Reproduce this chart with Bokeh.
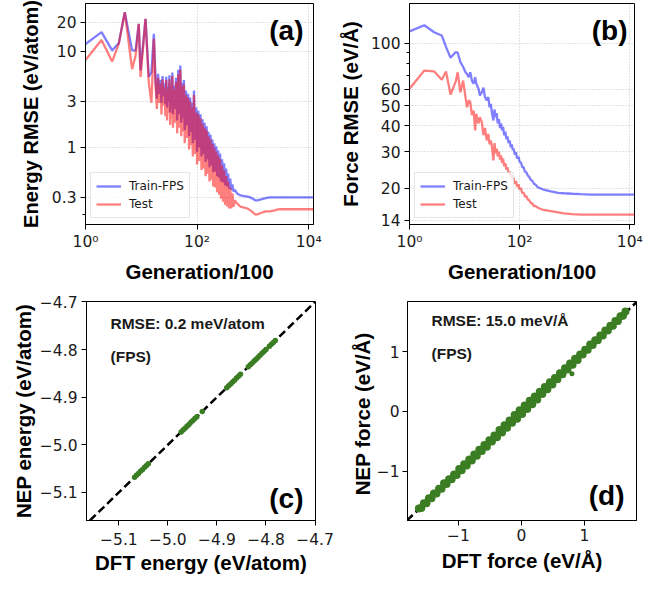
from bokeh.plotting import figure
from bokeh.layouts import row, column
from bokeh.models import FixedTicker, Label, Slope, Range1d
from bokeh.embed import file_html
from bokeh.resources import INLINE

# ---------------- data: panel (a) energy RMSE ----------------
gen_a = [1, 1.94, 3, 3.95, 5.06, 6.85, 7.9, 9.0, 9.7, 11.9, 13.6, 15.2, 16.8,
         18, 19, 20, 21, 22, 23, 24, 25, 26, 27,
         28, 29, 30, 31, 32, 33, 34, 35, 36, 37,
         38, 40, 42, 44, 46, 48, 50, 52, 54, 56,
         58, 60, 63, 66, 69, 72, 75, 78, 81, 84,
         88, 92, 96, 100, 105, 110, 115, 120, 125, 130,
         136, 142, 148, 154, 160, 167, 174, 181, 188, 195,
         203, 211, 220, 229, 238, 248, 258, 268, 280, 292,
         305, 318, 332, 346, 360, 376, 392, 410, 430, 450,
         475,
         520, 600, 700, 800, 900, 1000, 1100, 1200, 1350, 1500, 1700, 2000,
         2500, 2800, 3200, 5000, 12200]
train_e = [11.9, 15.8, 10.2, 12.1, 25.5, 10.2, 10.2, 19.3, 6.3, 21.7, 5.4, 6.0, 15.2,
           4.9, 3.2, 5.8, 3.6, 5.0, 2.9, 5.5, 3.4, 4.6, 2.8,
           5.4, 2.6, 4.3, 3.0, 5.6, 2.3, 4.6, 2.7, 6.0, 2.2,
           4.4, 2.5, 5.3, 1.9, 6.4, 2.2, 7.1, 1.8, 4.7, 2.0,
           5.0, 1.5, 3.9, 1.7, 3.6, 1.3, 3.3, 1.45, 2.9, 1.1,
           3.9, 1.2, 2.6, 0.9, 2.4, 1.0, 2.2, 0.8, 1.95, 0.85,
           1.8, 0.7, 1.65, 0.75, 1.45, 0.62, 1.35, 0.65, 1.2, 0.55,
           1.1, 0.56, 1.02, 0.5, 0.93, 0.48, 0.86, 0.44, 0.75, 0.43,
           0.68, 0.40, 0.6, 0.39, 0.53, 0.37, 0.47, 0.36, 0.41, 0.345,
           0.36,
           0.33, 0.315, 0.31, 0.305, 0.3, 0.29, 0.28, 0.28, 0.285, 0.29, 0.295, 0.3,
           0.3, 0.3, 0.3, 0.3, 0.3]
test_e = [8.1, 13.1, 7.8, 12.0, 25.5, 6.5, 9.0, 19.3, 5.4, 21.7, 4.75, 2.9, 13.5,
          4.5, 2.5, 5.3, 2.9, 4.6, 2.2, 5.1, 2.7, 4.2, 2.1,
          5.0, 1.9, 4.0, 2.3, 5.1, 1.7, 4.2, 2.0, 5.5, 1.6,
          4.0, 1.8, 4.8, 1.4, 5.8, 1.6, 6.4, 1.3, 4.3, 1.45,
          4.5, 1.1, 3.5, 1.25, 3.3, 0.95, 3.0, 1.05, 2.6, 0.8,
          3.5, 0.85, 2.3, 0.66, 2.2, 0.72, 2.0, 0.58, 1.75, 0.6,
          1.6, 0.5, 1.5, 0.53, 1.3, 0.44, 1.2, 0.46, 1.08, 0.39,
          0.98, 0.38, 0.9, 0.34, 0.82, 0.32, 0.75, 0.29, 0.64, 0.27,
          0.57, 0.25, 0.5, 0.24, 0.44, 0.23, 0.38, 0.23, 0.33, 0.24,
          0.28,
          0.26, 0.24, 0.235, 0.23, 0.22, 0.21, 0.2, 0.2, 0.205, 0.21, 0.215, 0.215,
          0.22, 0.225, 0.226, 0.226, 0.226]

# ---------------- data: panel (b) force RMSE ----------------
gen_b = [1, 1.86, 2.8, 3.85, 4.6, 5.57, 6.85, 7.5, 8.4, 9.4, 10.4, 11.1, 11.9, 12.7, 13.6, 14.6, 15.6, 16.3,
         17.9, 19, 20.6, 22, 23.5, 25.3, 27, 28.5, 30, 31.5,
         33.4, 35, 36.5, 38.3, 40, 42, 44, 46, 48, 50,
         52.5, 55, 57.5, 60, 63, 66, 69, 72, 75, 78,
         82, 86, 90, 95, 100, 106, 112, 118, 125, 133,
         141, 150, 160, 170, 182, 195, 213,
         270, 370, 500, 640, 900, 1300, 1930, 3000, 5000, 12200]
train_f = [114, 122, 113, 109, 96, 85, 90.5, 90, 81, 77, 72.4, 71, 68.5, 72.4, 66, 63.7, 68.5, 64,
           60.3, 56, 58, 61, 55, 53, 55, 49, 51, 46,
           42.4, 48, 44, 46, 41, 43, 39, 41, 38, 39.5,
           36, 37.5, 34.5, 35.5, 33, 34, 31.5, 32.5, 30.5, 31,
           29, 29.8, 27.8, 28.4, 26.8, 26.6, 25.2, 25.3, 24.0, 23.8,
           23.0, 22.6, 21.9, 21.7, 21.0, 20.8, 20.2,
           19.7, 19.3, 19.0, 18.9, 18.8, 18.7, 18.6, 18.6, 18.6, 18.6]
test_f = [60.3, 73.8, 73.2, 66.7, 73, 56.6, 64.9, 72.4, 58, 66, 55, 49.1, 53, 52, 45, 47.3, 38, 45.7,
          41, 44, 41.6, 36, 39, 34, 36.5, 32.5, 34, 31.6,
          27.2, 33, 29.5, 31, 28.5, 30, 27.5, 28.8, 26.5, 27.8,
          25.5, 26.4, 24.6, 25.2, 23.6, 24.0, 22.6, 23.2, 21.8, 22.4,
          21.0, 21.6, 20.3, 20.9, 19.7, 20.0, 18.9, 19.1, 18.2, 18.3,
          17.6, 17.5, 16.9, 16.9, 16.4, 16.4, 16.1,
          15.7, 15.5, 15.3, 15.1, 15.0, 14.9, 14.9, 14.9, 14.9, 14.9]

# ---------------- data: panel (c) energy parity ----------------
dft_e = [-5.068, -5.064, -5.060, -5.056, -5.052, -5.048, -5.044, -5.040,
         -4.973, -4.969, -4.965, -4.961, -4.957, -4.953, -4.949, -4.945, -4.941,
         -4.930,
         -4.880, -4.876, -4.872, -4.868, -4.864, -4.860, -4.856, -4.852,
         -4.836, -4.832, -4.828, -4.824, -4.820, -4.816, -4.812, -4.808, -4.804, -4.800,
         -4.793, -4.789, -4.785, -4.781]
nep_e = [-5.0682, -5.0638, -5.0601, -5.0558, -5.0523, -5.0478, -5.0442, -5.0399,
         -4.9732, -4.9688, -4.9652, -4.9608, -4.9571, -4.9528, -4.9492, -4.9449, -4.9411,
         -4.9302,
         -4.8802, -4.8758, -4.8721, -4.8679, -4.8642, -4.8598, -4.8561, -4.8519,
         -4.8362, -4.8318, -4.8281, -4.8238, -4.8202, -4.8159, -4.8121, -4.8078, -4.8041, -4.7998,
         -4.7932, -4.7888, -4.7851, -4.7809]

# ---------------- data: panel (d) force parity ----------------
dft_f = [-1.63, -1.59, -1.55, -1.51, -1.47, -1.43, -1.39, -1.35, -1.31, -1.27,
         -1.23, -1.19, -1.15, -1.11, -1.07, -1.03, -0.99, -0.95, -0.91, -0.87,
         -0.83, -0.79, -0.75, -0.71, -0.67, -0.63, -0.59, -0.55, -0.51, -0.47,
         -0.43, -0.39, -0.35, -0.31, -0.27, -0.23, -0.19, -0.15, -0.11, -0.07,
         -0.03, 0.01, 0.05, 0.09, 0.13, 0.17, 0.21, 0.25, 0.29, 0.33,
         0.37, 0.41, 0.45, 0.49, 0.53, 0.57, 0.61, 0.65, 0.69, 0.73,
         0.77, 0.81, 0.85, 0.89, 0.93, 0.97, 1.01, 1.05, 1.09, 1.13,
         1.17, 1.21, 1.25, 1.29, 1.33, 1.37, 1.41, 1.45, 1.49, 1.53,
         1.57, 1.61, 1.65]
nep_f = [-1.62, -1.61, -1.53, -1.53, -1.45, -1.45, -1.37, -1.37, -1.29, -1.29,
         -1.20, -1.21, -1.13, -1.13, -1.05, -1.06, -0.96, -0.98, -0.88, -0.90,
         -0.80, -0.82, -0.72, -0.74, -0.64, -0.66, -0.56, -0.59, -0.48, -0.50,
         -0.40, -0.43, -0.31, -0.35, -0.23, -0.27, -0.15, -0.19, -0.06, -0.12,
         0.02, -0.04, 0.10, 0.04, 0.18, 0.12, 0.25, 0.20, 0.33, 0.29,
         0.41, 0.37, 0.49, 0.45, 0.56, 0.54, 0.64, 0.62, 0.72, 0.70,
         0.80, 0.78, 0.88, 0.86, 0.95, 0.95, 1.03, 1.03, 1.12, 1.11,
         1.19, 1.19, 1.27, 1.27, 1.35, 1.35, 1.43, 1.43, 1.51, 1.51,
         1.59, 1.60, 1.67]
dft_out = [0.80]
nep_out = [0.63]

# ---------------- ticks ----------------
gen_ticks = [1, 100, 10000]
gen_tick_labels = ["10\u2070", "10\u00b2", "10\u2074"]
erm_ticks = [0.3, 1, 3, 10, 20]
erm_labels = ["0.3", "1", "3", "10", "20"]
frm_ticks = [14, 20, 30, 40, 50, 60, 100]
frm_labels = ["14", "20", "30", "40", "50", "60", "100"]
e_ticks = [-5.1, -5.0, -4.9, -4.8, -4.7]
f_ticks = [-1, 0, 1]

BLUE = "#0000ff"
RED = "#ff0000"
GREEN = "#3b7d23"
LABEL_FONT = "Liberation Sans"
TICK_FONT = "DejaVu Sans"


def minus(v, fmt):
    return (fmt % v).replace("-", "\u2212")


def base_style(p, xs1, xs2, ys1, ys2, yfs="20.5px"):
    p.outline_line_color = "black"
    p.outline_line_width = 1
    p.outline_line_alpha = 1
    p.background_fill_color = "white"
    p.border_fill_color = "white"
    for ax in (p.xaxis[0], p.yaxis[0]):
        ax.axis_line_color = "black"
        ax.major_tick_line_color = "black"
        ax.minor_tick_line_color = "black"
        ax.major_tick_in = 0
        ax.major_tick_out = 5
        ax.minor_tick_in = 0
        ax.minor_tick_out = 3
        ax.major_label_text_font = TICK_FONT
        ax.major_label_text_font_size = "15.5px"
        ax.major_label_text_color = "#1a1a1a"
        ax.axis_label_text_font = LABEL_FONT
        ax.axis_label_text_font_style = "bold"
        ax.axis_label_text_font_size = "20.5px"
        ax.axis_label_text_color = "black"
    p.yaxis[0].axis_label_text_font_size = yfs
    p.xaxis[0].major_label_standoff = xs1
    p.xaxis[0].axis_label_standoff = xs2
    p.yaxis[0].major_label_standoff = ys1
    p.yaxis[0].axis_label_standoff = ys2


def panel_label(p, text, x, y):
    p.add_layout(Label(x=x, y=y, x_units="screen", y_units="screen", text=text,
                       text_align="right", text_baseline="alphabetic",
                       text_font=LABEL_FONT, text_font_style="bold",
                       text_font_size="28px", text_color="black"))


def note(p, text, x, y):
    p.add_layout(Label(x=x, y=y, x_units="screen", y_units="screen", text=text,
                       text_align="left", text_baseline="alphabetic",
                       text_font=LABEL_FONT, text_font_style="bold",
                       text_font_size="15.5px", text_color="#1a1a1a"))


def rmse_panel(width, bl, br, gen, tr, te, yr, yt, ylabels, yminor, ylabel, ys2, yfs, letter):
    p = figure(width=width, height=290, x_axis_type="log", y_axis_type="log",
               x_range=Range1d(1, 12200), y_range=Range1d(*yr),
               output_backend="svg", toolbar_location=None, title=None,
               min_border_left=bl, min_border_right=br, min_border_top=3,
               min_border_bottom=66)
    base_style(p, 3, 6, 4, ys2, yfs)
    xt = FixedTicker(ticks=gen_ticks, minor_ticks=[])
    ytk = FixedTicker(ticks=yt, minor_ticks=yminor)
    p.xaxis[0].ticker = xt
    p.xgrid[0].ticker = xt
    p.yaxis[0].ticker = ytk
    p.ygrid[0].ticker = ytk
    p.xaxis[0].major_label_overrides = dict(zip(gen_ticks, gen_tick_labels))
    p.yaxis[0].major_label_overrides = dict(zip(yt, ylabels))
    for g in (p.xgrid[0], p.ygrid[0]):
        g.grid_line_color = "#b0b0b0"
        g.grid_line_dash = "1 2"
        g.grid_line_width = 0.8
        g.grid_line_alpha = 0.9
    p.xaxis[0].axis_label = "Generation/100"
    p.yaxis[0].axis_label = ylabel
    p.line(gen, tr, line_color=BLUE, line_alpha=0.5, line_width=2.3, legend_label="Train-FPS")
    p.line(gen, te, line_color=RED, line_alpha=0.5, line_width=2.3, legend_label="Test")
    lg = p.legend[0]
    lg.location = (5, 6)
    lg.label_text_font = TICK_FONT
    lg.label_text_font_size = "12px"
    lg.label_text_color = "#1a1a1a"
    lg.glyph_width = 25
    lg.glyph_height = 16
    lg.label_height = 16
    lg.label_standoff = 8
    lg.spacing = 2
    lg.padding = 5
    lg.margin = 0
    lg.border_line_color = "#cccccc"
    lg.border_line_width = 1
    lg.background_fill_alpha = 0.8
    panel_label(p, letter, 218, 194)
    return p


pa = rmse_panel(335, 85, 22, gen_a, train_e, test_e, (0.1567, 31.4), erm_ticks, erm_labels,
                [0.2], "Energy RMSE (eV/atom)", 7, "20px", "(a)")
pb = rmse_panel(330, 72, 31, gen_b, train_f, test_f, (13.36, 155.4), frm_ticks, frm_labels,
                [70, 80, 90], "Force RMSE (eV/\u00c5)", 6, "20.5px", "(b)")


def parity_panel(width, bl, br, bt, bb, xr, yr, ticks, fmt, xs, ys, size, xlabel, ylabel,
                 rmse_text, letter, ly, ny, xs1, xs2, ys1, ys2):
    p = figure(width=width, height=296, x_range=Range1d(*xr), y_range=Range1d(*yr),
               output_backend="svg", toolbar_location=None, title=None,
               min_border_left=bl, min_border_right=br, min_border_top=bt,
               min_border_bottom=bb)
    base_style(p, xs1, xs2, ys1, ys2)
    p.xaxis[0].ticker = FixedTicker(ticks=ticks, minor_ticks=[])
    p.yaxis[0].ticker = FixedTicker(ticks=ticks, minor_ticks=[])
    labels = {v: minus(v, fmt) for v in ticks}
    p.xaxis[0].major_label_overrides = labels
    p.yaxis[0].major_label_overrides = labels
    p.xgrid[0].visible = False
    p.ygrid[0].visible = False
    p.xaxis[0].axis_label = xlabel
    p.yaxis[0].axis_label = ylabel
    p.add_layout(Slope(gradient=1, y_intercept=0, line_color="black", line_width=2.5,
                       line_dash="8 4", level="underlay"))
    p.scatter(xs, ys, size=size, fill_color=GREEN, line_color=None)
    note(p, rmse_text, 24, ny)
    note(p, "(FPS)", 24, ny - 33)
    panel_label(p, letter, 217, ly)
    return p


pc = parity_panel(335, 86, 20, 11, 66, (-5.166, -4.699), (-5.159, -4.699), e_ticks, "%.1f",
                  dft_e, nep_e, 5.5, "DFT energy (eV/atom)", "NEP energy (eV/atom)",
                  "RMSE: 0.2 meV/atom", "(c)", 22, 197, 7, 3, 4, 2)
pd_ = parity_panel(330, 72, 29, 10, 63, (-1.81, 1.825), (-1.82, 1.836), f_ticks, "%d",
                   dft_f, nep_f, 8, "DFT force (eV/\u00c5)", "NEP  force (eV/\u00c5)",
                   "RMSE: 15.0 meV/\u00c5", "(d)", 25, 200, 3, 5, 3, 0)
pd_.scatter(dft_out, nep_out, size=5, fill_color=GREEN, line_color=None)

layout = column(row(pa, pb), row(pc, pd_))
open("out.html", "w").write(file_html(layout, INLINE))
